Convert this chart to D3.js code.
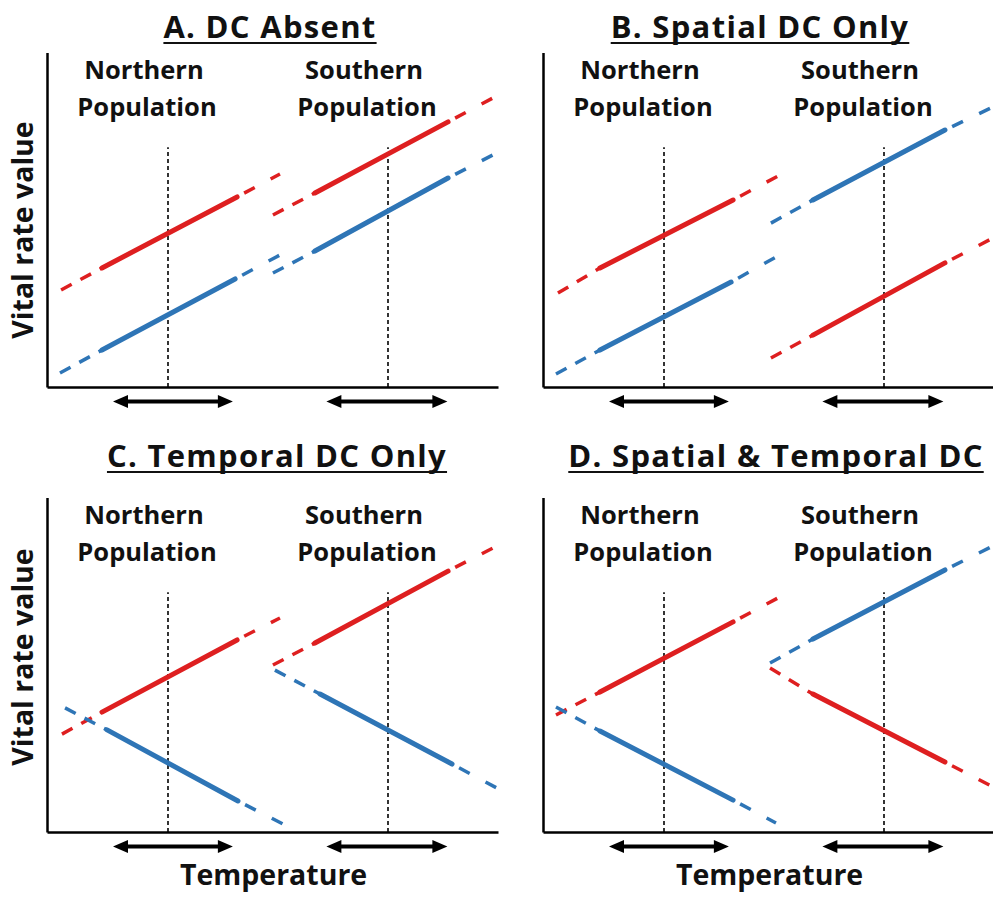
<!DOCTYPE html>
<html><head><meta charset="utf-8">
<script src="https://cdn.jsdelivr.net/npm/d3@7"></script>
<style>
body{margin:0;background:#fff}
svg{display:block}
text{font-family:"Open Sans","Noto Sans",sans-serif;font-weight:700;fill:#111}
</style>
</head><body>
<svg id="chart" width="993" height="898"></svg>
<script>
// ---------------- DATA ----------------
const panelTitles = ["A. DC Absent", "B. Spatial DC Only", "C. Temporal DC Only", "D. Spatial & Temporal DC"];
const populationNames = [["Northern", "Population"], ["Southern", "Population"]];
const populationCentres = [5.5, 15.5];            // mean temperature of each population
const temperatureRanges = [[3.0, 8.45], [12.7, 18.2]]; // observed temperature range (arrows)
const meanLineTop = 10.9;                         // top of dotted mean-temperature lines
const xAxisTitle = "Temperature";
const yAxisTitle = "Vital rate value";
const seriesNames = ["red", "blue"];

// each line: [dash start, solid start, solid end, dash end] as [temperature, vital rate]
const linesA = [
  {series: "red",  pop: 0, pts: [[0.64, 4.41], [2.5, 5.41], [8.64, 8.64], [10.59, 9.68]]},
  {series: "blue", pop: 0, pts: [[0.59, 0.64], [2.5, 1.68], [8.55, 4.91], [10.59, 6.0]]},
  {series: "red",  pop: 1, pts: [[10.27, 7.82], [12.18, 8.82], [18.23, 12.05], [20.27, 13.14]]},
  {series: "blue", pop: 1, pts: [[10.27, 5.18], [12.18, 6.18], [18.23, 9.5], [20.27, 10.55]]}
];
const linesB = [
  {series: "red",  pop: 0, pts: [[0.68, 4.27], [2.59, 5.41], [8.64, 8.5], [10.68, 9.59]]},
  {series: "blue", pop: 0, pts: [[0.59, 0.59], [2.59, 1.68], [8.55, 4.77], [10.59, 5.91]]},
  {series: "blue", pop: 1, pts: [[10.36, 7.45], [12.27, 8.5], [18.27, 11.68], [20.45, 12.73]]},
  {series: "red",  pop: 1, pts: [[10.36, 1.32], [12.27, 2.36], [18.27, 5.64], [20.45, 6.77]]}
];
const linesC = [
  {series: "red",  pop: 0, pts: [[0.68, 4.45], [2.5, 5.45], [8.64, 8.73], [10.59, 9.73]]},
  {series: "blue", pop: 0, pts: [[0.82, 5.64], [2.73, 4.64], [8.68, 1.41], [10.73, 0.36]]},
  {series: "red",  pop: 1, pts: [[10.27, 7.59], [12.18, 8.59], [18.23, 11.86], [20.27, 12.91]]},
  {series: "blue", pop: 1, pts: [[10.36, 7.36], [12.41, 6.27], [18.41, 3.09], [20.45, 2.0]]}
];
const linesD = [
  {series: "red",  pop: 0, pts: [[0.59, 5.32], [2.59, 6.36], [8.64, 9.55], [10.68, 10.64]]},
  {series: "blue", pop: 0, pts: [[0.59, 5.68], [2.59, 4.59], [8.64, 1.45], [10.59, 0.41]]},
  {series: "blue", pop: 1, pts: [[10.32, 7.68], [12.27, 8.77], [18.27, 11.91], [20.45, 13.0]]},
  {series: "red",  pop: 1, pts: [[10.32, 7.45], [12.27, 6.27], [18.27, 3.18], [20.45, 2.05]]}
];

// ---------------- LAYOUT ----------------
const panels = [
  {title: panelTitles[0], lines: linesA, col: 0, row: 0, titleX: 270},
  {title: panelTitles[1], lines: linesB, col: 1, row: 0, titleX: 760},
  {title: panelTitles[2], lines: linesC, col: 0, row: 1, titleX: 277},
  {title: panelTitles[3], lines: linesD, col: 1, row: 1, titleX: 776}
];
const lefts = [47, 543];
const bottoms = [387, 832];
const titleBaselines = [38, 467];
const yTitleCentres = [230, 657];
const pxPerUnit = 22;

const color = d3.scaleOrdinal().domain(seriesNames).range(["#de1f20", "#2e75b6"]);
const svg = d3.select("#chart");

panels.forEach(p => {
  const L = lefts[p.col], B = bottoms[p.row];
  const x = d3.scaleLinear().domain([0, 20.5]).range([L, L + 20.5 * pxPerUnit]);
  const y = d3.scaleLinear().domain([0, 15.2]).range([B, B - 15.2 * pxPerUnit]);
  const g = svg.append("g");

  // title with underline
  const t = g.append("text").attr("x", p.titleX).attr("y", titleBaselines[p.row])
    .attr("text-anchor", "middle").style("font-size", "31px").style("letter-spacing", "1.3px").text(p.title);
  const bb = t.node().getBBox();
  g.append("line").attr("x1", bb.x).attr("x2", bb.x + bb.width)
    .attr("y1", titleBaselines[p.row] + 5).attr("y2", titleBaselines[p.row] + 5)
    .attr("stroke", "#111").attr("stroke-width", 2);

  // population labels
  populationNames.forEach((nm, k) => {
    const cx = x(populationCentres[k]) - 24;
    const top = y.range()[1];
    g.append("text").attr("x", cx).attr("y", top + 26).attr("text-anchor", "middle")
      .style("font-size", "25.5px").text(nm[0]);
    g.append("text").attr("x", cx + 3).attr("y", top + 63).attr("text-anchor", "middle")
      .style("font-size", "25.5px").text(nm[1]);
  });

  // dotted mean lines
  populationCentres.forEach(c => {
    g.append("line").attr("x1", x(c)).attr("x2", x(c)).attr("y1", y(0)).attr("y2", y(meanLineTop))
      .attr("stroke", "#111").attr("stroke-width", 1.7).attr("stroke-dasharray", "4,3");
  });

  // curves
  const line = d3.line().x(d => x(d[0])).y(d => y(d[1]));
  p.lines.forEach(ln => {
    const c = color(ln.series);
    g.append("path").attr("d", line([ln.pts[0], ln.pts[1]])).attr("fill", "none")
      .attr("stroke", c).attr("stroke-width", 3.5).attr("stroke-dasharray", "12,10");
    g.append("path").attr("d", line([ln.pts[2], ln.pts[3]])).attr("fill", "none")
      .attr("stroke", c).attr("stroke-width", 3.5).attr("stroke-dasharray", "0,8,12,10");
    g.append("path").attr("d", line([ln.pts[1], ln.pts[2]])).attr("fill", "none")
      .attr("stroke", c).attr("stroke-width", 5).attr("stroke-linecap", "round");
  });

  // axes
  g.append("g").attr("transform", `translate(0,${B})`)
    .call(d3.axisBottom(x).tickValues([]).tickSizeOuter(0))
    .call(s => s.select(".domain").attr("stroke", "#000").attr("stroke-width", 2.5));
  g.append("g").attr("transform", `translate(${L},0)`)
    .call(d3.axisLeft(y).tickValues([]).tickSizeOuter(0))
    .call(s => s.select(".domain").attr("stroke", "#000").attr("stroke-width", 2.5));

  // temperature range arrows
  temperatureRanges.forEach(r => {
    const ay = B + 14.5, x0 = x(r[0]), x1 = x(r[1]);
    g.append("line").attr("x1", x0 + 8).attr("x2", x1 - 8).attr("y1", ay).attr("y2", ay)
      .attr("stroke", "#000").attr("stroke-width", 4);
    g.append("path").attr("d", `M${x0},${ay}L${x0 + 15},${ay - 6.5}L${x0 + 15},${ay + 6.5}Z`).attr("fill", "#000");
    g.append("path").attr("d", `M${x1},${ay}L${x1 - 15},${ay - 6.5}L${x1 - 15},${ay + 6.5}Z`).attr("fill", "#000");
  });

  // axis titles
  if (p.col === 0) {
    g.append("text").attr("transform", `translate(33,${yTitleCentres[p.row]}) rotate(-90)`)
      .attr("text-anchor", "middle").style("font-size", "28.5px").text(yAxisTitle);
  }
  if (p.row === 1) {
    g.append("text").attr("x", x(10.3)).attr("y", 885).attr("text-anchor", "middle")
      .style("font-size", "28.5px").text(xAxisTitle);
  }
});
</script>
</body></html>
